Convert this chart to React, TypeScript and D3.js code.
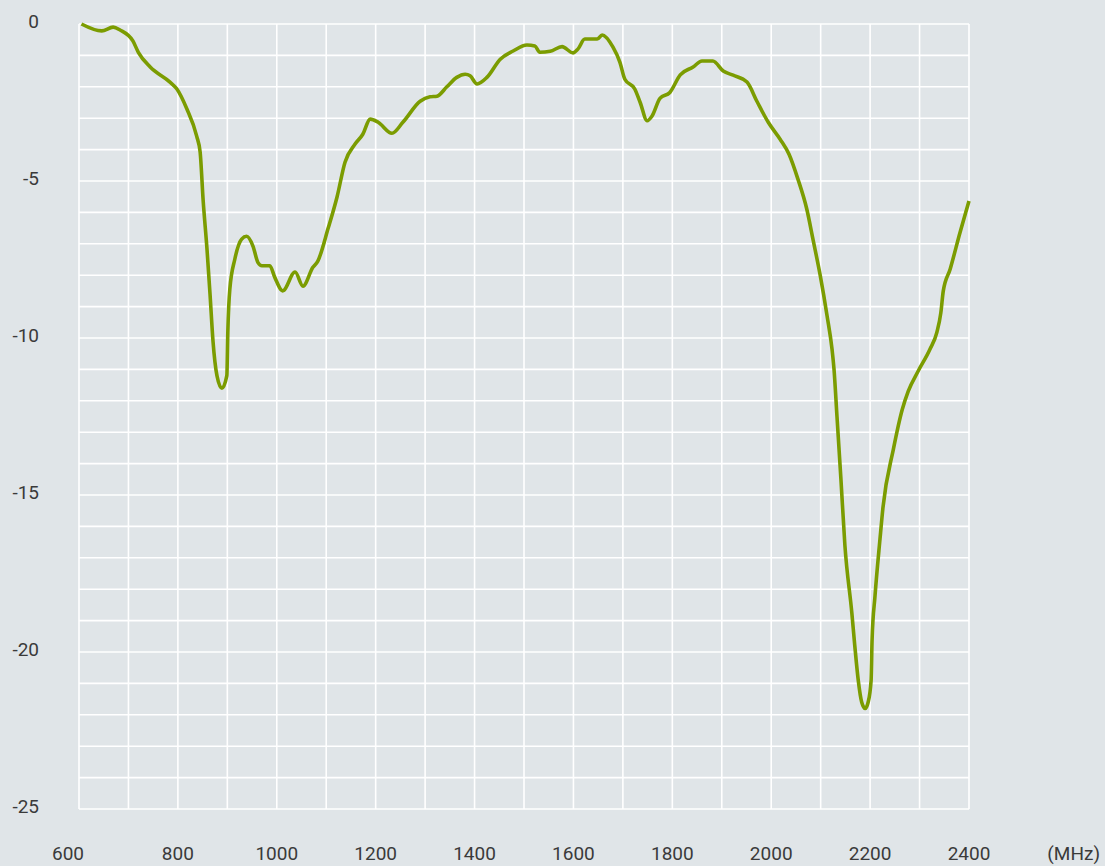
import React from "react";
import * as d3 from "d3";

const freqs = [
  605, 646, 669, 683, 709, 720, 744, 784, 798, 818, 838, 845, 851, 859, 865, 871, 879, 889, 899, 901, 905, 915, 929, 939, 952, 962, 970, 986, 996, 1012, 1037, 1053, 1073, 1083, 1104, 1122, 1138, 1158, 1174, 1189, 1205, 1233, 1255, 1290, 1310, 1324, 1344, 1364, 1381, 1391, 1405, 1425, 1452, 1478, 1506, 1522, 1532, 1553, 1577, 1599, 1609, 1623, 1648, 1658, 1680, 1694, 1704, 1724, 1735, 1749, 1759, 1775, 1795, 1816, 1842, 1860, 1882, 1903, 1923, 1951, 1971, 1994, 2018, 2036, 2054, 2072, 2085, 2099, 2113, 2123, 2127, 2133, 2141, 2149, 2163, 2169, 2176, 2183, 2190, 2196, 2202, 2204, 2210, 2220, 2226, 2247, 2265, 2277, 2297, 2321, 2335, 2343, 2348, 2362, 2382, 2400,
];
const values = [
  0, -0.22, -0.1, -0.19, -0.54, -0.9, -1.37, -1.85, -2.07, -2.7, -3.57, -4.08, -5.6, -7.2, -8.6, -10.1, -11.2, -11.6, -11.2, -9.8, -8.45, -7.5, -6.85, -6.76, -7.08, -7.6, -7.7, -7.7, -8.07, -8.5, -7.9, -8.35, -7.75, -7.55, -6.5, -5.5, -4.4, -3.83, -3.51, -3.03, -3.13, -3.48, -3.13, -2.46, -2.32, -2.3, -2.0, -1.7, -1.6, -1.65, -1.91, -1.7, -1.12, -0.86, -0.67, -0.7, -0.9, -0.87, -0.72, -0.92, -0.8, -0.48, -0.48, -0.35, -0.74, -1.22, -1.76, -2.07, -2.5, -3.08, -2.93, -2.37, -2.18, -1.62, -1.37, -1.18, -1.18, -1.5, -1.63, -1.85, -2.46, -3.13, -3.67, -4.15, -4.94, -5.9, -6.9, -8.0, -9.3, -10.36, -11.0, -12.5, -14.5, -16.6, -18.75, -19.8, -20.9, -21.6, -21.8, -21.6, -20.9, -19.6, -18.2, -16.4, -15.4, -13.55, -12.28, -11.7, -11.06, -10.36, -9.82, -9.2, -8.5, -7.8, -6.63, -5.64,
];
const xTickLabels = [600, 800, 1000, 1200, 1400, 1600, 1800, 2000, 2200, 2400];
const yTickLabels = [0, -5, -10, -15, -20, -25];
const unitLabel = "(MHz)";

const W = 1105;
const H = 866;
const BG = "#e0e5e8";
const LINE = "#7b9c01";
const TEXT = "#3a3a3a";
const FONT = "Roboto, 'DejaVu Sans', sans-serif";

export default function App() {
  const x = d3.scaleLinear().domain([600, 2400]).range([79, 969]);
  const y = d3.scaleLinear().domain([0, -25]).range([24, 809]);
  const vGrid = d3.range(600, 2401, 100);
  const hGrid = d3.range(0, -26, -1);
  const data = freqs.map((f, i) => [f, values[i]] as [number, number]);
  const line = d3
    .line<[number, number]>()
    .x((d) => x(d[0]))
    .y((d) => y(d[1]))
    .curve(d3.curveMonotoneX);

  return (
    <svg
      width={W}
      height={H}
      style={{ position: "absolute", left: 0, top: 0, display: "block" }}
    >
      <rect x={0} y={0} width={W} height={H} fill={BG} />
      {hGrid.map((v) => (
        <line key={"h" + v} x1={x(600)} x2={x(2400)} y1={y(v)} y2={y(v)} stroke="#ffffff" strokeWidth={1.6} />
      ))}
      {vGrid.map((f) => (
        <line key={"v" + f} x1={x(f)} x2={x(f)} y1={y(0)} y2={y(-25)} stroke="#ffffff" strokeWidth={1.6} />
      ))}
      <path d={line(data) || ""} fill="none" stroke={LINE} strokeWidth={3.6} strokeLinejoin="round" strokeLinecap="butt" />
      {yTickLabels.map((v) => (
        <text key={"yl" + v} x={39} y={y(v) - 3} textAnchor="end" dominantBaseline="central" fontFamily={FONT} fontSize={19} fill={TEXT}>
          {v}
        </text>
      ))}
      {xTickLabels.map((f, i) => (
        <text key={"xl" + f} x={x(f) + (i === 0 ? -11 : 0)} y={860} textAnchor="middle" fontFamily={FONT} fontSize={19} fill={TEXT}>
          {f}
        </text>
      ))}
      <text x={1100} y={860} textAnchor="end" fontFamily={FONT} fontSize={19} fill={TEXT}>
        {unitLabel}
      </text>
    </svg>
  );
}
